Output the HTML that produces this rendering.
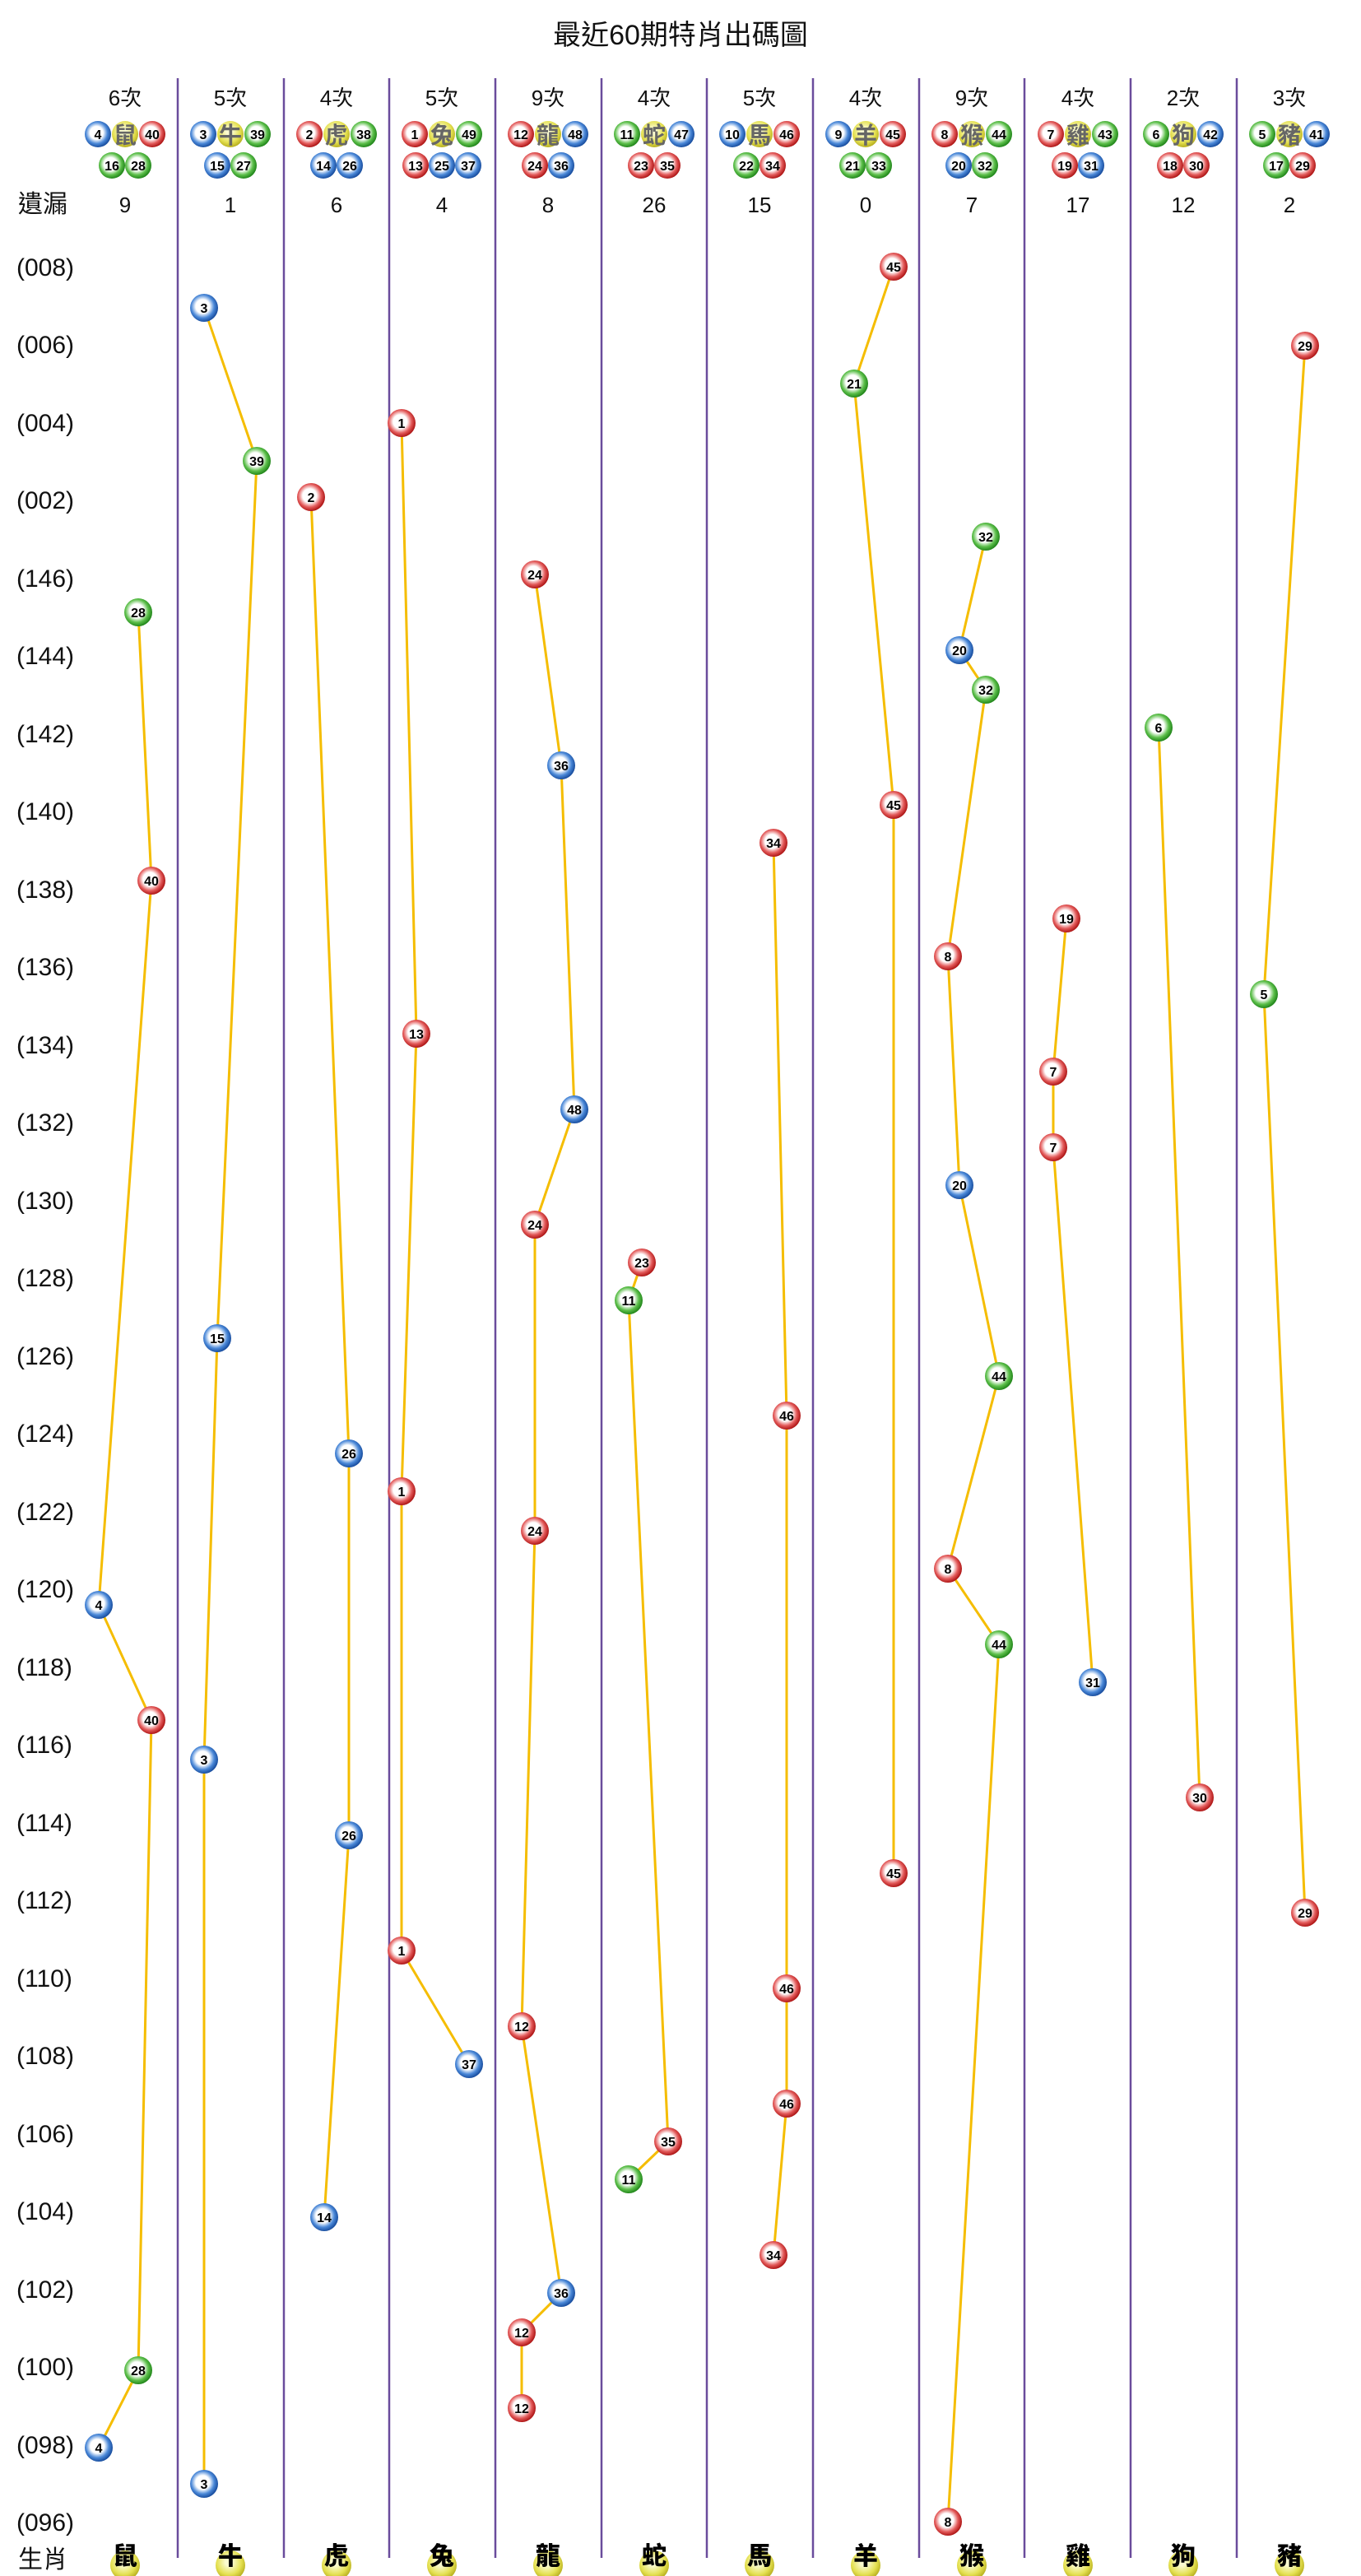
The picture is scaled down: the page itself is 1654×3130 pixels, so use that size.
<!DOCTYPE html>
<html><head><meta charset="utf-8"><style>
html,body{margin:0;padding:0;background:#fff;}
svg{display:block;}
.t{font-family:"Liberation Sans","Noto Sans CJK TC",sans-serif;}
.n{font-family:"Liberation Sans",sans-serif;font-weight:bold;font-size:16px;text-anchor:middle;fill:#000;}
.h{font-family:"Liberation Sans","Noto Sans CJK TC",sans-serif;font-size:26px;text-anchor:middle;fill:#111;}
.lb{font-family:"Liberation Sans","Noto Sans CJK TC",sans-serif;font-size:30px;fill:#111;}
.z{font-family:"Noto Sans CJK TC",sans-serif;font-weight:bold;font-size:28px;text-anchor:middle;fill:#666;}
.zb{font-family:"Noto Sans CJK TC",sans-serif;font-weight:900;font-size:30px;text-anchor:middle;fill:#000;}
.ln{stroke:#f5bd00;stroke-width:3;fill:none;}
</style></head><body>
<svg width="1654" height="3130" viewBox="0 0 1654 3130" xmlns="http://www.w3.org/2000/svg">
<defs>
<radialGradient id="R" cx="45%" cy="45%" r="55%"><stop offset="0.45" stop-color="#fff"/><stop offset="0.75" stop-color="#e35a5a"/><stop offset="1" stop-color="#b01818"/></radialGradient>
<radialGradient id="B" cx="45%" cy="45%" r="55%"><stop offset="0.45" stop-color="#fff"/><stop offset="0.75" stop-color="#4a88d8"/><stop offset="1" stop-color="#1a4fa0"/></radialGradient>
<radialGradient id="G" cx="45%" cy="45%" r="55%"><stop offset="0.45" stop-color="#fff"/><stop offset="0.75" stop-color="#5cbf4a"/><stop offset="1" stop-color="#23881c"/></radialGradient>
<radialGradient id="Y" cx="45%" cy="40%" r="60%"><stop offset="0.2" stop-color="#fbfbd0"/><stop offset="0.7" stop-color="#e4e050"/><stop offset="1" stop-color="#b8b020"/></radialGradient>
</defs>
<text x="827" y="54" class="t" font-size="34" text-anchor="middle" fill="#111">最近60期特肖出碼圖</text>
<g stroke="#6a4c9c" stroke-width="2.5">
<line x1="216" y1="95" x2="216" y2="3108"/><line x1="345" y1="95" x2="345" y2="3108"/><line x1="473" y1="95" x2="473" y2="3108"/><line x1="602" y1="95" x2="602" y2="3108"/><line x1="731" y1="95" x2="731" y2="3108"/><line x1="859" y1="95" x2="859" y2="3108"/><line x1="988" y1="95" x2="988" y2="3108"/><line x1="1117" y1="95" x2="1117" y2="3108"/><line x1="1245" y1="95" x2="1245" y2="3108"/><line x1="1374" y1="95" x2="1374" y2="3108"/><line x1="1503" y1="95" x2="1503" y2="3108"/>
</g>
<!-- header counts -->
<text class="h" x="152" y="128">6次</text><text class="h" x="280" y="128">5次</text><text class="h" x="409" y="128">4次</text><text class="h" x="537" y="128">5次</text><text class="h" x="666" y="128">9次</text><text class="h" x="795" y="128">4次</text><text class="h" x="923" y="128">5次</text><text class="h" x="1052" y="128">4次</text><text class="h" x="1181" y="128">9次</text><text class="h" x="1310" y="128">4次</text><text class="h" x="1438" y="128">2次</text><text class="h" x="1567" y="128">3次</text>
<!-- header zodiac balls -->
<g fill="url(#Y)"><circle cx="152" cy="163" r="16"/><circle cx="280" cy="163" r="16"/><circle cx="409" cy="163" r="16"/><circle cx="537" cy="163" r="16"/><circle cx="666" cy="163" r="16"/><circle cx="795" cy="163" r="16"/><circle cx="923" cy="163" r="16"/><circle cx="1052" cy="163" r="16"/><circle cx="1181" cy="163" r="16"/><circle cx="1310" cy="163" r="16"/><circle cx="1438" cy="163" r="16"/><circle cx="1567" cy="163" r="16"/></g>
<text class="z" x="152" y="174">鼠</text><text class="z" x="280" y="174">牛</text><text class="z" x="409" y="174">虎</text><text class="z" x="537" y="174">兔</text><text class="z" x="666" y="174">龍</text><text class="z" x="795" y="174">蛇</text><text class="z" x="923" y="174">馬</text><text class="z" x="1052" y="174">羊</text><text class="z" x="1181" y="174">猴</text><text class="z" x="1310" y="174">雞</text><text class="z" x="1438" y="174">狗</text><text class="z" x="1567" y="174">豬</text>
<!-- header number balls -->
<g>
<circle cx="119" cy="163" r="16" fill="url(#B)"/><text class="n" x="119" y="169">4</text>
<circle cx="185" cy="163" r="16" fill="url(#R)"/><text class="n" x="185" y="169">40</text>
<circle cx="136" cy="201" r="16" fill="url(#G)"/><text class="n" x="136" y="207">16</text>
<circle cx="168" cy="201" r="16" fill="url(#G)"/><text class="n" x="168" y="207">28</text>

<circle cx="247" cy="163" r="16" fill="url(#B)"/><text class="n" x="247" y="169">3</text>
<circle cx="313" cy="163" r="16" fill="url(#G)"/><text class="n" x="313" y="169">39</text>
<circle cx="264" cy="201" r="16" fill="url(#B)"/><text class="n" x="264" y="207">15</text>
<circle cx="296" cy="201" r="16" fill="url(#G)"/><text class="n" x="296" y="207">27</text>

<circle cx="376" cy="163" r="16" fill="url(#R)"/><text class="n" x="376" y="169">2</text>
<circle cx="442" cy="163" r="16" fill="url(#G)"/><text class="n" x="442" y="169">38</text>
<circle cx="393" cy="201" r="16" fill="url(#B)"/><text class="n" x="393" y="207">14</text>
<circle cx="425" cy="201" r="16" fill="url(#B)"/><text class="n" x="425" y="207">26</text>

<circle cx="504" cy="163" r="16" fill="url(#R)"/><text class="n" x="504" y="169">1</text>
<circle cx="570" cy="163" r="16" fill="url(#G)"/><text class="n" x="570" y="169">49</text>
<circle cx="505" cy="201" r="16" fill="url(#R)"/><text class="n" x="505" y="207">13</text>
<circle cx="537" cy="201" r="16" fill="url(#B)"/><text class="n" x="537" y="207">25</text>
<circle cx="569" cy="201" r="16" fill="url(#B)"/><text class="n" x="569" y="207">37</text>

<circle cx="633" cy="163" r="16" fill="url(#R)"/><text class="n" x="633" y="169">12</text>
<circle cx="699" cy="163" r="16" fill="url(#B)"/><text class="n" x="699" y="169">48</text>
<circle cx="650" cy="201" r="16" fill="url(#R)"/><text class="n" x="650" y="207">24</text>
<circle cx="682" cy="201" r="16" fill="url(#B)"/><text class="n" x="682" y="207">36</text>

<circle cx="762" cy="163" r="16" fill="url(#G)"/><text class="n" x="762" y="169">11</text>
<circle cx="828" cy="163" r="16" fill="url(#B)"/><text class="n" x="828" y="169">47</text>
<circle cx="779" cy="201" r="16" fill="url(#R)"/><text class="n" x="779" y="207">23</text>
<circle cx="811" cy="201" r="16" fill="url(#R)"/><text class="n" x="811" y="207">35</text>

<circle cx="890" cy="163" r="16" fill="url(#B)"/><text class="n" x="890" y="169">10</text>
<circle cx="956" cy="163" r="16" fill="url(#R)"/><text class="n" x="956" y="169">46</text>
<circle cx="907" cy="201" r="16" fill="url(#G)"/><text class="n" x="907" y="207">22</text>
<circle cx="939" cy="201" r="16" fill="url(#R)"/><text class="n" x="939" y="207">34</text>

<circle cx="1019" cy="163" r="16" fill="url(#B)"/><text class="n" x="1019" y="169">9</text>
<circle cx="1085" cy="163" r="16" fill="url(#R)"/><text class="n" x="1085" y="169">45</text>
<circle cx="1036" cy="201" r="16" fill="url(#G)"/><text class="n" x="1036" y="207">21</text>
<circle cx="1068" cy="201" r="16" fill="url(#G)"/><text class="n" x="1068" y="207">33</text>

<circle cx="1148" cy="163" r="16" fill="url(#R)"/><text class="n" x="1148" y="169">8</text>
<circle cx="1214" cy="163" r="16" fill="url(#G)"/><text class="n" x="1214" y="169">44</text>
<circle cx="1165" cy="201" r="16" fill="url(#B)"/><text class="n" x="1165" y="207">20</text>
<circle cx="1197" cy="201" r="16" fill="url(#G)"/><text class="n" x="1197" y="207">32</text>

<circle cx="1277" cy="163" r="16" fill="url(#R)"/><text class="n" x="1277" y="169">7</text>
<circle cx="1343" cy="163" r="16" fill="url(#G)"/><text class="n" x="1343" y="169">43</text>
<circle cx="1294" cy="201" r="16" fill="url(#R)"/><text class="n" x="1294" y="207">19</text>
<circle cx="1326" cy="201" r="16" fill="url(#B)"/><text class="n" x="1326" y="207">31</text>

<circle cx="1405" cy="163" r="16" fill="url(#G)"/><text class="n" x="1405" y="169">6</text>
<circle cx="1471" cy="163" r="16" fill="url(#B)"/><text class="n" x="1471" y="169">42</text>
<circle cx="1422" cy="201" r="16" fill="url(#R)"/><text class="n" x="1422" y="207">18</text>
<circle cx="1454" cy="201" r="16" fill="url(#R)"/><text class="n" x="1454" y="207">30</text>

<circle cx="1534" cy="163" r="16" fill="url(#G)"/><text class="n" x="1534" y="169">5</text>
<circle cx="1600" cy="163" r="16" fill="url(#B)"/><text class="n" x="1600" y="169">41</text>
<circle cx="1551" cy="201" r="16" fill="url(#G)"/><text class="n" x="1551" y="207">17</text>
<circle cx="1583" cy="201" r="16" fill="url(#R)"/><text class="n" x="1583" y="207">29</text>
</g>
<!-- 遺漏 -->
<text class="lb" x="22" y="258">遺漏</text>
<text class="h" x="152" y="258">9</text><text class="h" x="280" y="258">1</text><text class="h" x="409" y="258">6</text><text class="h" x="537" y="258">4</text><text class="h" x="666" y="258">8</text><text class="h" x="795" y="258">26</text><text class="h" x="923" y="258">15</text><text class="h" x="1052" y="258">0</text><text class="h" x="1181" y="258">7</text><text class="h" x="1310" y="258">17</text><text class="h" x="1438" y="258">12</text><text class="h" x="1567" y="258">2</text>
<!-- row labels -->
<g class="lb">
<text x="20" y="335">(008)</text><text x="20" y="429">(006)</text><text x="20" y="524">(004)</text><text x="20" y="618">(002)</text><text x="20" y="713">(146)</text><text x="20" y="807">(144)</text><text x="20" y="902">(142)</text><text x="20" y="996">(140)</text><text x="20" y="1091">(138)</text><text x="20" y="1185">(136)</text><text x="20" y="1280">(134)</text><text x="20" y="1374">(132)</text><text x="20" y="1469">(130)</text><text x="20" y="1563">(128)</text><text x="20" y="1658">(126)</text><text x="20" y="1752">(124)</text><text x="20" y="1847">(122)</text><text x="20" y="1941">(120)</text><text x="20" y="2036">(118)</text><text x="20" y="2130">(116)</text><text x="20" y="2225">(114)</text><text x="20" y="2319">(112)</text><text x="20" y="2414">(110)</text><text x="20" y="2508">(108)</text><text x="20" y="2603">(106)</text><text x="20" y="2697">(104)</text><text x="20" y="2792">(102)</text><text x="20" y="2886">(100)</text><text x="20" y="2981">(098)</text><text x="20" y="3075">(096)</text>
</g>
<!-- lines -->
<polyline class="ln" points="168,744 184,1070 120,1950 184,2090 168,2880 120,2974"/>
<polyline class="ln" points="248,374 312,560 264,1626 248,2138 248,3018"/>
<polyline class="ln" points="378,604 424,1766 424,2230 394,2694"/>
<polyline class="ln" points="488,514 506,1256 488,1812 488,2370 570,2508"/>
<polyline class="ln" points="650,698 682,930 698,1348 650,1488 650,1860 634,2462 682,2786 634,2834 634,2926"/>
<polyline class="ln" points="780,1534 764,1580 812,2602 764,2648"/>
<polyline class="ln" points="940,1024 956,1720 956,2416 956,2556 940,2740"/>
<polyline class="ln" points="1086,324 1038,466 1086,978 1086,2276"/>
<polyline class="ln" points="1198,652 1166,790 1198,838 1152,1162 1166,1440 1214,1672 1152,1906 1214,1998 1152,3064"/>
<polyline class="ln" points="1296,1116 1280,1302 1280,1394 1328,2044"/>
<polyline class="ln" points="1408,884 1458,2184"/>
<polyline class="ln" points="1586,420 1536,1208 1586,2324"/>
<!-- plot balls -->
<g>
<circle cx="168" cy="744" r="17" fill="url(#G)"/><text class="n" x="168" y="750">28</text>
<circle cx="184" cy="1070" r="17" fill="url(#R)"/><text class="n" x="184" y="1076">40</text>
<circle cx="120" cy="1950" r="17" fill="url(#B)"/><text class="n" x="120" y="1956">4</text>
<circle cx="184" cy="2090" r="17" fill="url(#R)"/><text class="n" x="184" y="2096">40</text>
<circle cx="168" cy="2880" r="17" fill="url(#G)"/><text class="n" x="168" y="2886">28</text>
<circle cx="120" cy="2974" r="17" fill="url(#B)"/><text class="n" x="120" y="2980">4</text>

<circle cx="248" cy="374" r="17" fill="url(#B)"/><text class="n" x="248" y="380">3</text>
<circle cx="312" cy="560" r="17" fill="url(#G)"/><text class="n" x="312" y="566">39</text>
<circle cx="264" cy="1626" r="17" fill="url(#B)"/><text class="n" x="264" y="1632">15</text>
<circle cx="248" cy="2138" r="17" fill="url(#B)"/><text class="n" x="248" y="2144">3</text>
<circle cx="248" cy="3018" r="17" fill="url(#B)"/><text class="n" x="248" y="3024">3</text>

<circle cx="378" cy="604" r="17" fill="url(#R)"/><text class="n" x="378" y="610">2</text>
<circle cx="424" cy="1766" r="17" fill="url(#B)"/><text class="n" x="424" y="1772">26</text>
<circle cx="424" cy="2230" r="17" fill="url(#B)"/><text class="n" x="424" y="2236">26</text>
<circle cx="394" cy="2694" r="17" fill="url(#B)"/><text class="n" x="394" y="2700">14</text>

<circle cx="488" cy="514" r="17" fill="url(#R)"/><text class="n" x="488" y="520">1</text>
<circle cx="506" cy="1256" r="17" fill="url(#R)"/><text class="n" x="506" y="1262">13</text>
<circle cx="488" cy="1812" r="17" fill="url(#R)"/><text class="n" x="488" y="1818">1</text>
<circle cx="488" cy="2370" r="17" fill="url(#R)"/><text class="n" x="488" y="2376">1</text>
<circle cx="570" cy="2508" r="17" fill="url(#B)"/><text class="n" x="570" y="2514">37</text>

<circle cx="650" cy="698" r="17" fill="url(#R)"/><text class="n" x="650" y="704">24</text>
<circle cx="682" cy="930" r="17" fill="url(#B)"/><text class="n" x="682" y="936">36</text>
<circle cx="698" cy="1348" r="17" fill="url(#B)"/><text class="n" x="698" y="1354">48</text>
<circle cx="650" cy="1488" r="17" fill="url(#R)"/><text class="n" x="650" y="1494">24</text>
<circle cx="650" cy="1860" r="17" fill="url(#R)"/><text class="n" x="650" y="1866">24</text>
<circle cx="634" cy="2462" r="17" fill="url(#R)"/><text class="n" x="634" y="2468">12</text>
<circle cx="682" cy="2786" r="17" fill="url(#B)"/><text class="n" x="682" y="2792">36</text>
<circle cx="634" cy="2834" r="17" fill="url(#R)"/><text class="n" x="634" y="2840">12</text>
<circle cx="634" cy="2926" r="17" fill="url(#R)"/><text class="n" x="634" y="2932">12</text>

<circle cx="780" cy="1534" r="17" fill="url(#R)"/><text class="n" x="780" y="1540">23</text>
<circle cx="764" cy="1580" r="17" fill="url(#G)"/><text class="n" x="764" y="1586">11</text>
<circle cx="812" cy="2602" r="17" fill="url(#R)"/><text class="n" x="812" y="2608">35</text>
<circle cx="764" cy="2648" r="17" fill="url(#G)"/><text class="n" x="764" y="2654">11</text>

<circle cx="940" cy="1024" r="17" fill="url(#R)"/><text class="n" x="940" y="1030">34</text>
<circle cx="956" cy="1720" r="17" fill="url(#R)"/><text class="n" x="956" y="1726">46</text>
<circle cx="956" cy="2416" r="17" fill="url(#R)"/><text class="n" x="956" y="2422">46</text>
<circle cx="956" cy="2556" r="17" fill="url(#R)"/><text class="n" x="956" y="2562">46</text>
<circle cx="940" cy="2740" r="17" fill="url(#R)"/><text class="n" x="940" y="2746">34</text>

<circle cx="1086" cy="324" r="17" fill="url(#R)"/><text class="n" x="1086" y="330">45</text>
<circle cx="1038" cy="466" r="17" fill="url(#G)"/><text class="n" x="1038" y="472">21</text>
<circle cx="1086" cy="978" r="17" fill="url(#R)"/><text class="n" x="1086" y="984">45</text>
<circle cx="1086" cy="2276" r="17" fill="url(#R)"/><text class="n" x="1086" y="2282">45</text>

<circle cx="1198" cy="652" r="17" fill="url(#G)"/><text class="n" x="1198" y="658">32</text>
<circle cx="1166" cy="790" r="17" fill="url(#B)"/><text class="n" x="1166" y="796">20</text>
<circle cx="1198" cy="838" r="17" fill="url(#G)"/><text class="n" x="1198" y="844">32</text>
<circle cx="1152" cy="1162" r="17" fill="url(#R)"/><text class="n" x="1152" y="1168">8</text>
<circle cx="1166" cy="1440" r="17" fill="url(#B)"/><text class="n" x="1166" y="1446">20</text>
<circle cx="1214" cy="1672" r="17" fill="url(#G)"/><text class="n" x="1214" y="1678">44</text>
<circle cx="1152" cy="1906" r="17" fill="url(#R)"/><text class="n" x="1152" y="1912">8</text>
<circle cx="1214" cy="1998" r="17" fill="url(#G)"/><text class="n" x="1214" y="2004">44</text>
<circle cx="1152" cy="3064" r="17" fill="url(#R)"/><text class="n" x="1152" y="3070">8</text>

<circle cx="1296" cy="1116" r="17" fill="url(#R)"/><text class="n" x="1296" y="1122">19</text>
<circle cx="1280" cy="1302" r="17" fill="url(#R)"/><text class="n" x="1280" y="1308">7</text>
<circle cx="1280" cy="1394" r="17" fill="url(#R)"/><text class="n" x="1280" y="1400">7</text>
<circle cx="1328" cy="2044" r="17" fill="url(#B)"/><text class="n" x="1328" y="2050">31</text>

<circle cx="1408" cy="884" r="17" fill="url(#G)"/><text class="n" x="1408" y="890">6</text>
<circle cx="1458" cy="2184" r="17" fill="url(#R)"/><text class="n" x="1458" y="2190">30</text>

<circle cx="1586" cy="420" r="17" fill="url(#R)"/><text class="n" x="1586" y="426">29</text>
<circle cx="1536" cy="1208" r="17" fill="url(#G)"/><text class="n" x="1536" y="1214">5</text>
<circle cx="1586" cy="2324" r="17" fill="url(#R)"/><text class="n" x="1586" y="2330">29</text>
</g>
<!-- bottom row -->
<text class="lb" x="22" y="3120">生肖</text>
<g fill="url(#Y)"><circle cx="152" cy="3117" r="18"/><circle cx="280" cy="3117" r="18"/><circle cx="409" cy="3117" r="18"/><circle cx="537" cy="3117" r="18"/><circle cx="666" cy="3117" r="18"/><circle cx="795" cy="3117" r="18"/><circle cx="923" cy="3117" r="18"/><circle cx="1052" cy="3117" r="18"/><circle cx="1181" cy="3117" r="18"/><circle cx="1310" cy="3117" r="18"/><circle cx="1438" cy="3117" r="18"/><circle cx="1567" cy="3117" r="18"/></g>
<text class="zb" x="152" y="3116">鼠</text><text class="zb" x="280" y="3116">牛</text><text class="zb" x="409" y="3116">虎</text><text class="zb" x="537" y="3116">兔</text><text class="zb" x="666" y="3116">龍</text><text class="zb" x="795" y="3116">蛇</text><text class="zb" x="923" y="3116">馬</text><text class="zb" x="1052" y="3116">羊</text><text class="zb" x="1181" y="3116">猴</text><text class="zb" x="1310" y="3116">雞</text><text class="zb" x="1438" y="3116">狗</text><text class="zb" x="1567" y="3116">豬</text>
</svg>
</body></html>
